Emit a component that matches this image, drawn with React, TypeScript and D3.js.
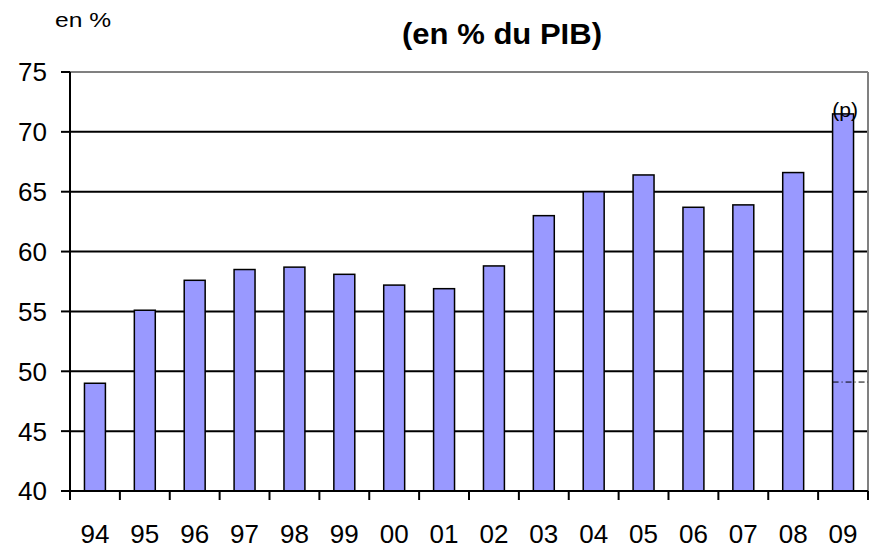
import React from "react";
import * as d3 from "d3";

const years = ["94","95","96","97","98","99","00","01","02","03","04","05","06","07","08","09"];
const values = [49.0,55.1,57.6,58.5,58.7,58.1,57.2,56.9,58.8,63.0,65.0,66.4,63.7,63.9,66.6,71.5];
const yTicks = [40,45,50,55,60,65,70,75];
const forecastLabel = "(p)";
const forecastRefValue = 49.1;

const W = 875, H = 550;
const left = 70, right = 868, top = 72, bottom = 491;

export default function App() {
  const x = d3.scaleBand<string>().domain(years).range([left, right]).paddingInner(0.58).paddingOuter(0.29);
  const xb = d3.scaleBand<string>().domain(years).range([left, right]);
  const y = d3.scaleLinear().domain([40, 75]).range([bottom, top]);
  const font = "'Liberation Sans', Arial, sans-serif";
  const last = years[years.length - 1];
  return (
    <svg width={W} height={H} style={{ position: "absolute", left: 0, top: 0, background: "#fff" }}>
      <text x={55} y={27} fontFamily={font} fontSize={20} fill="#000" textLength={56} lengthAdjust="spacingAndGlyphs">en %</text>
      <text x={402} y={44} fontFamily={font} fontSize={30} fontWeight="bold" fill="#000" textLength={200} lengthAdjust="spacingAndGlyphs">(en % du PIB)</text>
      {yTicks.filter(t => t > 40 && t < 75).map(t => (
        <line key={t} x1={left} x2={right} y1={y(t)} y2={y(t)} stroke="#000" strokeWidth={2} />
      ))}
      <line x1={left} x2={right} y1={y(75)} y2={y(75)} stroke="#808080" strokeWidth={2} />
      <line x1={right} x2={right} y1={y(75)} y2={y(40)} stroke="#808080" strokeWidth={2} />
      {years.map((yr, i) => (
        <rect key={yr} x={x(yr)} y={y(values[i])} width={x.bandwidth()} height={y(40) - y(values[i])}
          fill="#9999ff" stroke="#000" strokeWidth={1.5} />
      ))}
      <line x1={x(last)} x2={right} y1={y(forecastRefValue)} y2={y(forecastRefValue)} stroke="#000" strokeWidth={1} strokeDasharray="6,3,1,3" />
      <text x={(x(last) as number) + x.bandwidth() / 2 + 2} y={117} textAnchor="middle" fontFamily={font} fontSize={21} fill="#000">{forecastLabel}</text>
      <line x1={left} x2={left} y1={y(75)} y2={y(40)} stroke="#000" strokeWidth={2} />
      <line x1={left} x2={right} y1={y(40)} y2={y(40)} stroke="#000" strokeWidth={2} />
      {yTicks.map(t => (
        <g key={t}>
          <line x1={left - 9} x2={left} y1={y(t)} y2={y(t)} stroke="#000" strokeWidth={2} />
          <text x={47} y={y(t)} dy="0.36em" textAnchor="end" fontFamily={font} fontSize={26} fill="#000">{t}</text>
        </g>
      ))}
      {years.map(yr => (
        <line key={"t" + yr} x1={xb(yr)} x2={xb(yr)} y1={y(40)} y2={y(40) + 9} stroke="#000" strokeWidth={2} />
      ))}
      <line x1={right} x2={right} y1={y(40)} y2={y(40) + 9} stroke="#000" strokeWidth={2} />
      {years.map(yr => (
        <text key={"l" + yr} x={(xb(yr) as number) + xb.bandwidth() / 2} y={543} textAnchor="middle" fontFamily={font} fontSize={26} fill="#000">{yr}</text>
      ))}
    </svg>
  );
}
